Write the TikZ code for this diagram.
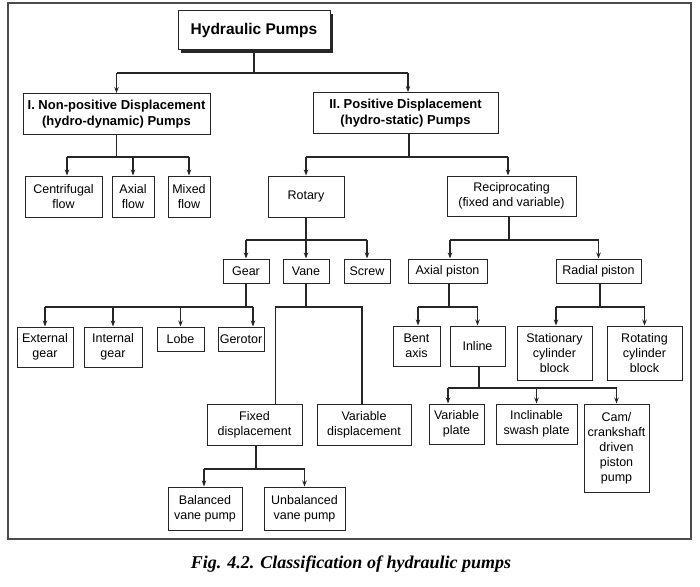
\documentclass[tikz,border=0pt]{standalone}
\usepackage{fontspec}
\setmainfont{Liberation Sans}
\newfontfamily\capfont{Liberation Serif}
\usetikzlibrary{arrows.meta,shadows}
\tikzset{
  box/.style={draw=black!85, line width=1pt, fill=white, align=center, inner sep=0pt,
    font=\fontsize{12.5}{15}\selectfont},
  hbox/.style={box, font=\fontsize{13}{16}\selectfont\bfseries},
  wire/.style={draw=black!85, line width=1.1pt},
  arr/.style={wire, -{Stealth[length=6pt,width=4.5pt]}},
}
\begin{document}
\begin{tikzpicture}[x=1pt,y=-1pt]
\useasboundingbox (0,0) rectangle (700,586);
\draw[black!70, line width=1.3pt] (8,3) rectangle (691,539);

% nodes
\node[box, font=\fontsize{15.5}{18}\selectfont\bfseries, minimum width=152pt, minimum height=39pt,
  drop shadow={shadow xshift=3pt, shadow yshift=-3pt, fill=black!85, opacity=1}] (hp) at (254,30.5) {Hydraulic Pumps};
\node[hbox, minimum width=187pt, minimum height=41pt] (np) at (116.5,114) {I. Non-positive Displacement\\(hydro-dynamic) Pumps};
\node[hbox, minimum width=185pt, minimum height=41pt] (pd) at (405.5,113) {II. Positive Displacement\\(hydro-static) Pumps};

\node[box, minimum width=77pt, minimum height=41pt] (cen) at (63.5,196.5) {Centrifugal\\flow};
\node[box, minimum width=42pt, minimum height=41pt] (axf) at (133,196.5) {Axial\\flow};
\node[box, minimum width=42pt, minimum height=41pt] (mix) at (189,196.5) {Mixed\\flow};

\node[box, minimum width=76pt, minimum height=41pt] (rot) at (306,196.5) {Rotary};
\node[box, minimum width=129pt, minimum height=40pt] (rec) at (511.5,196) {Reciprocating\\(fixed and variable)};

\node[box, minimum width=46pt, minimum height=24pt] (gear) at (246,271) {Gear};
\node[box, minimum width=46pt, minimum height=24pt] (vane) at (306,271) {Vane};
\node[box, minimum width=46pt, minimum height=24pt] (screw) at (367,271) {Screw};
\node[box, minimum width=79pt, minimum height=24pt] (axp) at (447.5,271) {Axial piston};
\node[box, minimum width=85pt, minimum height=24pt] (rad) at (598.5,271) {Radial piston};

\node[box, minimum width=56pt, minimum height=40pt] (ext) at (45,347) {External\\gear};
\node[box, minimum width=58pt, minimum height=40pt] (int) at (113,347) {Internal\\gear};
\node[box, minimum width=47pt, minimum height=24pt] (lobe) at (180.5,339) {Lobe};
\node[box, minimum width=46pt, minimum height=24pt] (gero) at (241,339) {Gerotor};

\node[box, minimum width=95pt, minimum height=41pt] (fix) at (254.5,424.5) {Fixed\\displacement};
\node[box, minimum width=94pt, minimum height=41pt] (var) at (364,424.5) {Variable\\displacement};
\node[box, minimum width=74pt, minimum height=43pt] (bal) at (205,508.5) {Balanced\\vane pump};
\node[box, minimum width=81pt, minimum height=43pt] (unb) at (304.5,508.5) {Unbalanced\\vane pump};

\node[box, minimum width=47pt, minimum height=40pt] (bent) at (416.5,346) {Bent\\axis};
\node[box, minimum width=55pt, minimum height=40pt] (inl) at (477.5,346) {Inline};
\node[box, minimum width=75pt, minimum height=54pt] (sta) at (554.5,353) {Stationary\\cylinder\\block};
\node[box, minimum width=75pt, minimum height=54pt] (rota) at (644.5,353) {Rotating\\cylinder\\block};

\node[box, minimum width=55pt, minimum height=40pt] (vp) at (456.5,424) {Variable\\plate};
\node[box, minimum width=81pt, minimum height=40pt] (inc) at (536.5,424) {Inclinable\\swash plate};
\node[box, minimum width=65pt, minimum height=88pt] (cam) at (616.5,448) {Cam/\\crankshaft\\driven\\piston\\pump};

\node[font=\capfont\fontsize{18}{21}\selectfont\bfseries\itshape, anchor=base] (cap) at (351,568) {Fig. 4.2. Classification of hydraulic pumps};

% bus levels
\coordinate (b0) at (0,73);
\coordinate (b1) at (0,157);
\coordinate (b2) at (0,240);
\coordinate (b3) at (0,307);
\coordinate (b4) at (0,388);
\coordinate (b5) at (0,469);

% Hydraulic pumps
\draw[wire] (hp.south) -- (hp.south |- b0);
\draw[wire] (np.north |- b0) -- ([xshift=2.5pt]pd.north |- b0);
\draw[arr] (np.north |- b0) -- (np.north);
\draw[arr] ([xshift=2.5pt]pd.north |- b0) -- ([xshift=2.5pt]pd.north);

% Non-positive
\draw[wire] (np.south) -- (np.south |- b1);
\draw[wire] ([xshift=3.5pt]cen.north |- b1) -- (mix.north |- b1);
\draw[arr] ([xshift=3.5pt]cen.north |- b1) -- ([xshift=3.5pt]cen.north);
\draw[arr] (axf.north |- b1) -- (axf.north);
\draw[arr] (mix.north |- b1) -- (mix.north);

% Positive
\draw[wire] ([xshift=3.5pt]pd.south) -- ([xshift=3.5pt]pd.south |- b1);
\draw[wire] (rot.north |- b1) -- ([xshift=-3.5pt]rec.north |- b1);
\draw[arr] (rot.north |- b1) -- (rot.north);
\draw[arr] ([xshift=-3.5pt]rec.north |- b1) -- ([xshift=-3.5pt]rec.north);

% Rotary
\draw[wire] (rot.south) -- (rot.south |- b2);
\draw[wire] (gear.north |- b2) -- (screw.north |- b2);
\draw[arr] (gear.north |- b2) -- (gear.north);
\draw[arr] (vane.north |- b2) -- (vane.north);
\draw[arr] (screw.north |- b2) -- (screw.north);

% Reciprocating
\draw[wire] ([xshift=-2.5pt]rec.south) -- ([xshift=-2.5pt]rec.south |- b2);
\draw[wire] ([xshift=2.5pt]axp.north |- b2) -- (rad.north |- b2);
\draw[arr] ([xshift=2.5pt]axp.north |- b2) -- ([xshift=2.5pt]axp.north);
\draw[arr] (rad.north |- b2) -- (rad.north);

% Gear
\draw[wire] (gear.south) -- (gear.south |- b3);
\draw[wire] (ext.north |- b3) -- ([xshift=12pt]gero.north |- b3);
\draw[arr] (ext.north |- b3) -- (ext.north);
\draw[arr] (int.north |- b3) -- (int.north);
\draw[arr] (lobe.north |- b3) -- (lobe.north);
\draw[arr] ([xshift=12pt]gero.north |- b3) -- ([xshift=12pt]gero.north);

% Vane (plain lines)
\draw[wire] (vane.south) -- (vane.south |- b3);
\draw[wire] ([xshift=21pt]fix.north) -- ([xshift=21pt]fix.north |- b3) -- ([xshift=-2pt]var.north |- b3) -- ([xshift=-2pt]var.north);

% Fixed displacement
\draw[wire] ([xshift=1.5pt]fix.south) -- ([xshift=1.5pt]fix.south |- b5);
\draw[wire] ([xshift=-1pt]bal.north |- b5) -- (unb.north |- b5);
\draw[arr] ([xshift=-1pt]bal.north |- b5) -- ([xshift=-1pt]bal.north);
\draw[arr] (unb.north |- b5) -- (unb.north);

% Axial piston
\draw[wire] ([xshift=1.5pt]axp.south) -- ([xshift=1.5pt]axp.south |- b3);
\draw[wire] ([xshift=1.5pt]bent.north |- b3) -- (inl.north |- b3);
\draw[arr] ([xshift=1.5pt]bent.north |- b3) -- ([xshift=1.5pt]bent.north);
\draw[arr] (inl.north |- b3) -- (inl.north);

% Radial piston
\draw[wire] ([xshift=1.5pt]rad.south) -- ([xshift=1.5pt]rad.south |- b3);
\draw[wire] ([xshift=1.5pt]sta.north |- b3) -- (rota.north |- b3);
\draw[arr] ([xshift=1.5pt]sta.north |- b3) -- ([xshift=1.5pt]sta.north);
\draw[arr] (rota.north |- b3) -- (rota.north);

% Inline
\draw[wire] ([xshift=1.5pt]inl.south) -- ([xshift=1.5pt]inl.south |- b4);
\draw[wire] ([xshift=-8.5pt]vp.north |- b4) -- (cam.north |- b4);
\draw[arr] ([xshift=-8.5pt]vp.north |- b4) -- ([xshift=-8.5pt]vp.north);
\draw[arr] (inc.north |- b4) -- (inc.north);
\draw[arr] (cam.north |- b4) -- (cam.north);
\end{tikzpicture}
\end{document}
